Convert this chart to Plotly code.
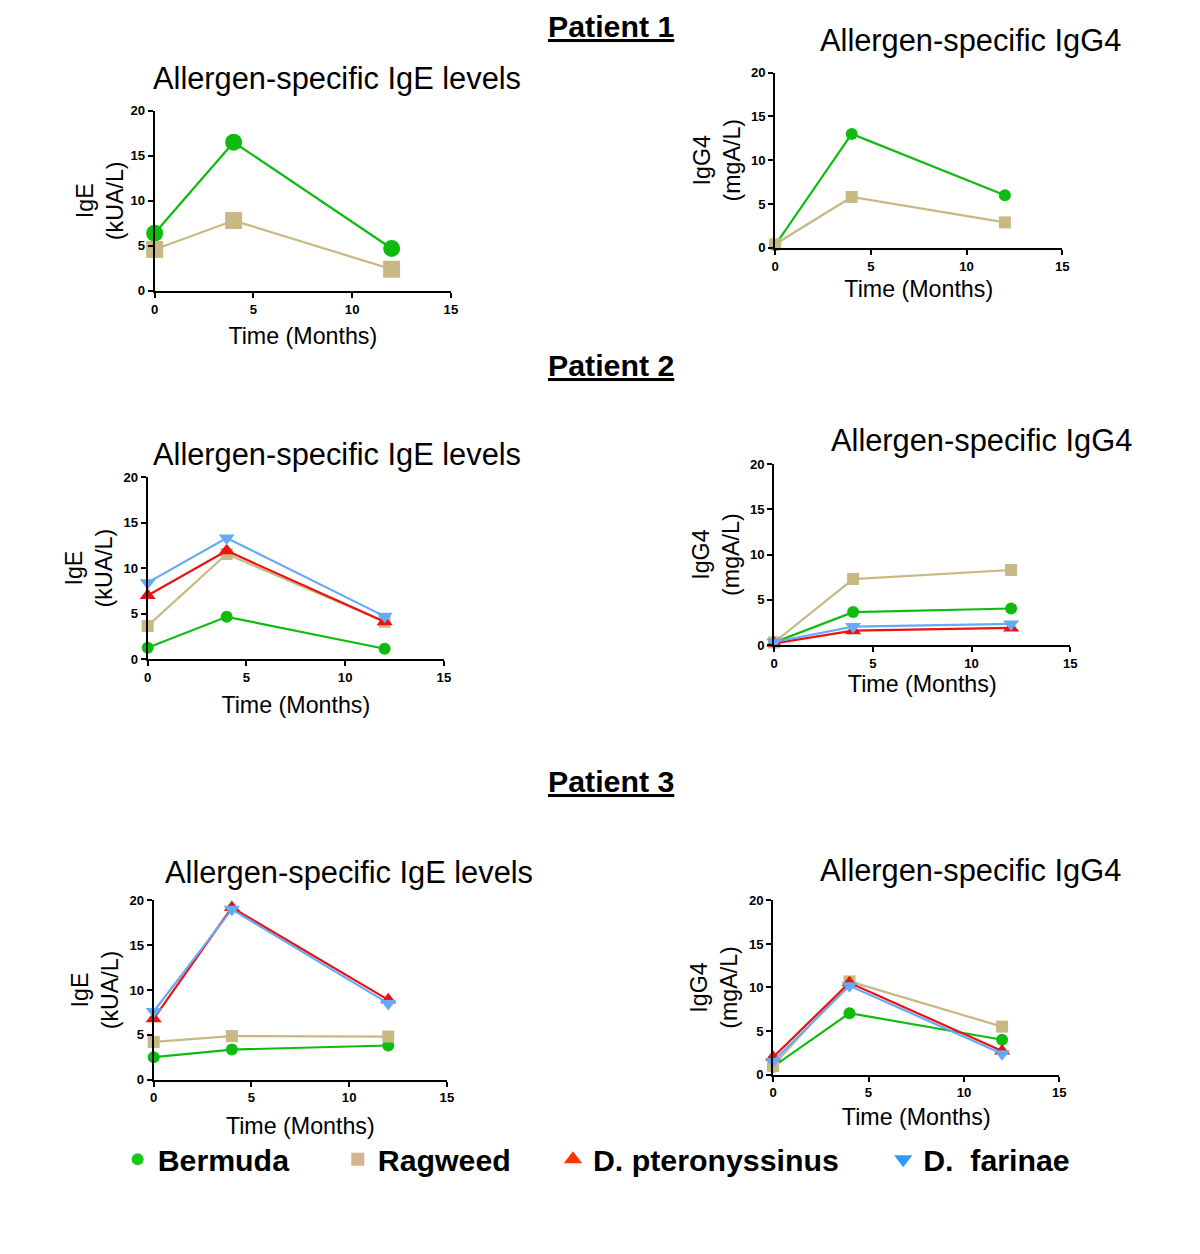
import plotly.graph_objects as go

# The page body has an 8px margin; size the figure so page == window.
OFF = 8
W, H = 1200 - 2 * OFF, 1254 - 2 * OFF
# calibration of the captured picture (observed = A * page + C)
AX, CX = 0.99, 3.5
AY, CY = 0.987, 8.5
S = 1 / AX  # font scale compensation

months = [0, 4, 12]
series_names = ["Bermuda", "Ragweed", "D. pteronyssinus", "D.  farinae"]

# Patient 1
p1_ige_bermuda = [6.4, 16.5, 4.7]
p1_ige_ragweed = [4.6, 7.8, 2.4]
p1_igg4_bermuda = [0.3, 13.0, 6.0]
p1_igg4_ragweed = [0.4, 5.8, 2.9]

# Patient 2
p2_ige_bermuda = [1.25, 4.65, 1.15]
p2_ige_ragweed = [3.65, 11.55, 4.1]
p2_ige_dpt = [7.0, 11.9, 4.1]
p2_ige_df = [8.4, 13.3, 4.7]
p2_igg4_bermuda = [0.3, 3.65, 4.05]
p2_igg4_ragweed = [0.3, 7.3, 8.3]
p2_igg4_dpt = [0.2, 1.6, 1.9]
p2_igg4_df = [0.35, 2.05, 2.35]

# Patient 3
p3_ige_bermuda = [2.5, 3.35, 3.8]
p3_ige_ragweed = [4.2, 4.85, 4.8]
p3_ige_dpt = [6.8, 19.2, 8.9]
p3_ige_df = [7.6, 19.0, 8.5]
p3_igg4_bermuda = [0.9, 7.05, 4.0]
p3_igg4_ragweed = [1.0, 10.7, 5.5]
p3_igg4_dpt = [2.0, 10.55, 2.7]
p3_igg4_df = [1.5, 10.2, 2.4]

x_ticks = [0, 5, 10, 15]
y_ticks = [0, 5, 10, 15, 20]

line_colors = {"Bermuda": "#10bb10", "Ragweed": "#c8b883",
               "D. pteronyssinus": "#ee1111", "D.  farinae": "#66aaf5"}
legend_colors = {"Bermuda": "#18c818", "Ragweed": "#d4b48c",
                 "D. pteronyssinus": "#ff3300", "D.  farinae": "#3399ff"}
symbols = {"Bermuda": "circle", "Ragweed": "square",
           "D. pteronyssinus": "triangle-up", "D.  farinae": "triangle-down"}


def px_x(o):
    return ((o - CX) / AX - OFF) / W


def px_y(o):
    return 1 - ((o - CY) / AY - OFF) / H


# panel pixel boxes in picture coordinates: (x0, x1, ytop, ybottom)
panels = [
    dict(box=(154, 450, 112, 292), kind="IgE", msize=17, xs=12, ys=0,
         data={"Bermuda": p1_ige_bermuda, "Ragweed": p1_ige_ragweed}),
    dict(box=(774, 1061, 74, 249), kind="IgG4", msize=12, xs=8, ys=4,
         data={"Bermuda": p1_igg4_bermuda, "Ragweed": p1_igg4_ragweed}),
    dict(box=(147, 443, 478, 660), kind="IgE", msize=12, xs=13, ys=4,
         data={"Bermuda": p2_ige_bermuda, "Ragweed": p2_ige_ragweed,
               "D. pteronyssinus": p2_ige_dpt, "D.  farinae": p2_ige_df}),
    dict(box=(773, 1069, 465, 646), kind="IgG4", msize=12, xs=4, ys=4,
         data={"Bermuda": p2_igg4_bermuda, "Ragweed": p2_igg4_ragweed,
               "D. pteronyssinus": p2_igg4_dpt, "D.  farinae": p2_igg4_df}),
    dict(box=(153, 446, 901, 1080), kind="IgE", msize=12, xs=13, ys=4,
         data={"Bermuda": p3_ige_bermuda, "Ragweed": p3_ige_ragweed,
               "D. pteronyssinus": p3_ige_dpt, "D.  farinae": p3_ige_df}),
    dict(box=(772, 1058, 901, 1075), kind="IgG4", msize=12, xs=9, ys=5,
         data={"Bermuda": p3_igg4_bermuda, "Ragweed": p3_igg4_ragweed,
               "D. pteronyssinus": p3_igg4_dpt, "D.  farinae": p3_igg4_df}),
]

FONT = "Liberation Sans, Arial, sans-serif"
fig = go.Figure()
layout = dict(width=W, height=H, margin=dict(l=0, r=0, t=0, b=0),
              paper_bgcolor="white", plot_bgcolor="white",
              font=dict(family=FONT, color="black"))

for i, p in enumerate(panels):
    n = "" if i == 0 else str(i + 1)
    x0, x1, yt, yb = p["box"]
    xa = dict(domain=[px_x(x0), px_x(x1)], range=[0, 15], tickvals=x_ticks,
              showgrid=False, zeroline=False, showline=True, linecolor="black",
              linewidth=2, ticks="outside", ticklen=5, tickwidth=2, tickcolor="black",
              tickfont=dict(size=13 * S, weight="bold", family=FONT),
              anchor="y" + n,
              title=dict(text="Time (Months)", font=dict(size=23 * S, family=FONT),
                         standoff=p["xs"]))
    ylab = "IgE<br>(kUA/L)" if p["kind"] == "IgE" else "IgG4<br>(mgA/L)"
    ya = dict(domain=[px_y(yb), px_y(yt)], range=[0, 20], tickvals=y_ticks,
              showgrid=False, zeroline=False, showline=True, linecolor="black",
              linewidth=2, ticks="outside", ticklen=5, tickwidth=2, tickcolor="black",
              tickfont=dict(size=13 * S, weight="bold", family=FONT),
              anchor="x" + n,
              title=dict(text=ylab, font=dict(size=23 * S, family=FONT), standoff=p["ys"]))
    layout["xaxis" + n] = xa
    layout["yaxis" + n] = ya
    for name, vals in p["data"].items():
        fig.add_trace(go.Scatter(
            x=months, y=vals, mode="lines+markers", name=name,
            xaxis="x" + n, yaxis="y" + n, showlegend=False, cliponaxis=False,
            line=dict(color=line_colors[name], width=2.2),
            marker=dict(symbol=symbols[name], color=line_colors[name],
                        size=p["msize"] + (2 if "D." in name else 0))))

# Legend entries (one legend per item for precise placement)
legend_pos = [("legend", 117), ("legend2", 337), ("legend3", 552), ("legend4", 882)]
legend_sizes = {"Bermuda": 12, "Ragweed": 13, "D. pteronyssinus": 19, "D.  farinae": 19}
for (lg, px), name in zip(legend_pos, series_names):
    fig.add_trace(go.Scatter(
        x=[None], y=[None], mode="markers", name=name, legend=lg,
        marker=dict(symbol=symbols[name], color=legend_colors[name], size=legend_sizes[name])))
    layout[lg] = dict(x=px_x(px), xanchor="left", y=px_y(1160), yanchor="middle",
                      bgcolor="rgba(0,0,0,0)", borderwidth=0,
                      font=dict(size=30 * S, weight="bold", family=FONT),
                      itemsizing="trace")

annotations = []
for txt, cy in [("Patient 1", 28), ("Patient 2", 367), ("Patient 3", 782)]:
    annotations.append(dict(text="<b><u>" + txt + "</u></b>", x=px_x(610), y=px_y(cy),
                            xref="paper", yref="paper", showarrow=False,
                            font=dict(size=30 * S, family=FONT), xanchor="center", yanchor="middle"))
for txt, cx, cy in [("Allergen-specific IgE levels", 336, 80),
                    ("Allergen-specific IgG4", 969, 42),
                    ("Allergen-specific IgE levels", 336, 456),
                    ("Allergen-specific IgG4", 980, 442),
                    ("Allergen-specific IgE levels", 348, 873),
                    ("Allergen-specific IgG4", 969, 871)]:
    annotations.append(dict(text=txt, x=px_x(cx), y=px_y(cy), xref="paper", yref="paper",
                            showarrow=False, font=dict(size=30.5 * S, family=FONT),
                            xanchor="center", yanchor="middle"))
layout["annotations"] = annotations

fig.update_layout(**layout)
fig.write_html("out.html")
